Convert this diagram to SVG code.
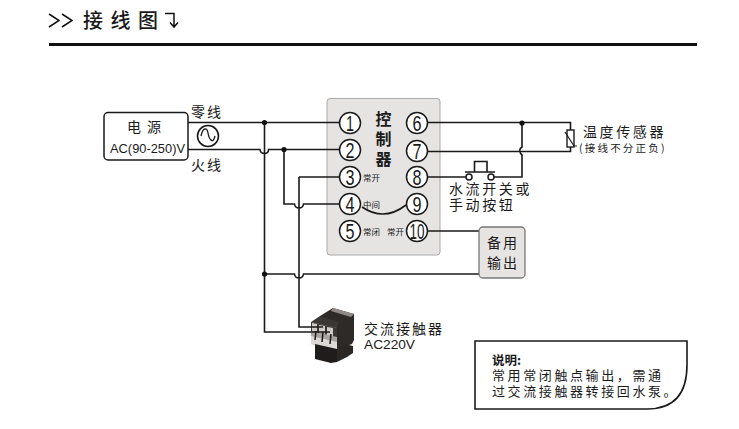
<svg xmlns="http://www.w3.org/2000/svg" width="739" height="429" viewBox="0 0 739 429">
<style>
text{font-family:"Noto Sans CJK SC","Liberation Sans",sans-serif;fill:#1a1a1a}
.w{fill:none;stroke:#1a1a1a;stroke-width:1.6}
.n{fill:#fff;stroke:#1a1a1a;stroke-width:1.5}
.t{font-size:22px;text-anchor:middle;font-family:"Liberation Sans",sans-serif}
.s{font-size:8.500px}
.l{font-size:14px;letter-spacing:2px}
.j{fill:#111}
</style>
<rect width="739" height="429" fill="#fff"/>
<g id="title">
<path d="M49 14l10 6.500-10 6.500M62 14l10 6.500-10 6.500" fill="none" stroke="#111" stroke-width="1.500"/>
<text x="83" y="28" font-size="20" letter-spacing="7.500" font-weight="500">接线图</text>
<path d="M165 13.500h9v13M170 22.500l4 4.500 4-4.500" fill="none" stroke="#111" stroke-width="1.500"/>
<rect x="49" y="43" width="648" height="3" fill="#111"/>
</g>
<g id="controller-panel"><rect x="327" y="98.500" width="113" height="156.500" rx="3" fill="#e6e4e3" stroke="#aaa" stroke-width="1"/>
<text font-size="16" font-weight="700" text-anchor="middle"><tspan x="383.500" y="125">控</tspan><tspan x="383.500" y="145">制</tspan><tspan x="383.500" y="165">器</tspan></text>
<text x="363" y="181" class="s">常开</text><text x="363" y="208" class="s">中间</text><text x="363" y="235" class="s">常闭</text><text x="387" y="235" class="s">常开</text></g>
<g id="contactor">
<path d="M320 316l13-8 21 6v26l-2 4-14 5-20-4v-20z" fill="#2e2a28"/>
<path d="M333 308l21 6-3 3-20-6z" fill="#8f8a87"/>
<path d="M311 322l9-6 19 6-3 7-25-3z" fill="#3a3634"/>
<path d="M311 322l26 6v22l-26-6z" fill="#a9a4a1"/>
<path d="M311 322l26 6v9l-26-6z" fill="#3b3735"/>
<path d="M312 323l5 1v8l-5-1zM319 325l6 1v8l-6-1zM327 327l6 1v8l-6-1z" fill="#cfcbc8"/>
<path d="M311 336l26 6v8l-26-6z" fill="#ddd9d6"/>
<path d="M315 344l22 5v13l-6 1-16-4z" fill="#1f1c1b"/>
<path d="M337 349l8-5 8 2v7l-6 4-10 5z" fill="#2b2725"/>
<path d="M316 331l-1 9M323 332l-1 10M331 334l-1 10" stroke="#1a1a1a" stroke-width="1.500"/>
<text x="364" y="334" font-size="14" letter-spacing="2">交流接触器</text>
<text x="364" y="349" font-size="13" textLength="51" lengthAdjust="spacingAndGlyphs" style="font-family:'Liberation Sans',sans-serif">AC220V</text></g>
<g id="connectors">
<path class="w" d="M188 122.500H339M188 149.500H260q.5 4 4.500 4t4-4H339M264.500 122.500V332H330"/>
<path class="w" d="M284 149.500V204H294.500q.5 4 4.500 4t4.500-4H339M299 177H339M299 177V327H323M264.500 274H294.500q.5 4 4.500 4t4.500-4H479"/>
<path class="w" d="M428 122.500H570.500V130M570.500 147V151.500H428M522 122.500V147q-3 2-2 4.500 0 2 2 3.500V177H494M428 177H466M428 231H479M362 207Q384 222 406 205"/>
<circle class="j" cx="264.500" cy="122.500" r="2.600"/><circle class="j" cx="284" cy="149.500" r="2.600"/><circle class="j" cx="264.500" cy="274" r="2.600"/><circle class="j" cx="522" cy="123" r="2.600"/>
</g>
<g id="power"><rect x="104" y="112.500" width="84" height="47.500" rx="4" fill="#fff" stroke="#1a1a1a" stroke-width="1.500"/>
<text x="147" y="132" font-size="14" letter-spacing="6" text-anchor="middle">电源</text>
<text x="110" y="153" font-size="13" textLength="75" lengthAdjust="spacingAndGlyphs" style="font-family:'Liberation Sans',sans-serif">AC(90-250)V</text>
<circle cx="208" cy="136" r="10.500" fill="#fff" stroke="#1a1a1a" stroke-width="1.600"/><path d="M201 136c2-9 6-9 7-3s5 12 7 3" fill="none" stroke="#1a1a1a" stroke-width="1.300"/>
<text x="191" y="117" class="l">零线</text><text x="191" y="170" class="l">火线</text></g>
<g id="t1"><circle class="n" cx="350" cy="123" r="10.500"/><text class="t" x="350" y="131" textLength="8" lengthAdjust="spacingAndGlyphs">1</text></g>
<g id="t2"><circle class="n" cx="350" cy="150" r="10.500"/><text class="t" x="350" y="158" textLength="9" lengthAdjust="spacingAndGlyphs">2</text></g>
<g id="t3"><circle class="n" cx="350" cy="177" r="10.500"/><text class="t" x="350" y="185" textLength="9" lengthAdjust="spacingAndGlyphs">3</text></g>
<g id="t4"><circle class="n" cx="350" cy="204" r="10.500"/><text class="t" x="350" y="212" textLength="9" lengthAdjust="spacingAndGlyphs">4</text></g>
<g id="t5"><circle class="n" cx="350" cy="231" r="10.500"/><text class="t" x="350" y="239" textLength="9" lengthAdjust="spacingAndGlyphs">5</text></g>
<g id="t6"><circle class="n" cx="417" cy="123" r="10.500"/><text class="t" x="417" y="131" textLength="9" lengthAdjust="spacingAndGlyphs">6</text></g>
<g id="t7"><circle class="n" cx="417" cy="151" r="10.500"/><text class="t" x="417" y="159" textLength="9" lengthAdjust="spacingAndGlyphs">7</text></g>
<g id="t8"><circle class="n" cx="417" cy="177" r="10.500"/><text class="t" x="417" y="185" textLength="9" lengthAdjust="spacingAndGlyphs">8</text></g>
<g id="t9"><circle class="n" cx="417" cy="204" r="10.500"/><text class="t" x="417" y="212" textLength="9" lengthAdjust="spacingAndGlyphs">9</text></g>
<g id="t10"><circle class="n" cx="417" cy="231" r="10.500"/><text class="t" x="417" y="239" textLength="15" lengthAdjust="spacingAndGlyphs">10</text></g>
<g id="sensor"><rect x="567" y="130" width="7" height="17" fill="#fff" stroke="#1a1a1a" stroke-width="1.400"/><path d="M565 132l9 14h3" fill="none" stroke="#1a1a1a" stroke-width="1.200"/>
<text x="583" y="137" font-size="14" letter-spacing="2.600">温度传感器</text>
<text x="579" y="152" font-size="10.500" letter-spacing="2.200">(接线不分正负)</text></g>
<g id="switch"><path class="w" d="M474.500 172V161.500H487V172M465 172H495"/><circle class="n" cx="469" cy="177" r="3"/><circle class="n" cx="491" cy="177" r="3"/>
<text font-size="14" letter-spacing="2.600"><tspan x="449" y="194">水流开关或</tspan><tspan x="449" y="210">手动按钮</tspan></text></g>
<g id="spare"><rect x="479" y="227" width="46" height="51" rx="4" fill="#e6e4e3" stroke="#777" stroke-width="1.300"/>
<text font-size="14" letter-spacing="2" text-anchor="middle"><tspan x="503" y="248">备用</tspan><tspan x="503" y="268">输出</tspan></text></g>
<g id="note"><path d="M475 341H687V365Q687 409 647 409H475Z" fill="#fff" stroke="#1a1a1a" stroke-width="1.600"/>
<text font-size="13" letter-spacing="2.600"><tspan x="492" y="365" font-weight="700" font-size="12.500" letter-spacing="0">说明:</tspan><tspan x="492" y="380">常用常闭触点输出，需通</tspan><tspan x="492" y="396">过交流接触器转接回水泵。</tspan></text></g>
</svg>
